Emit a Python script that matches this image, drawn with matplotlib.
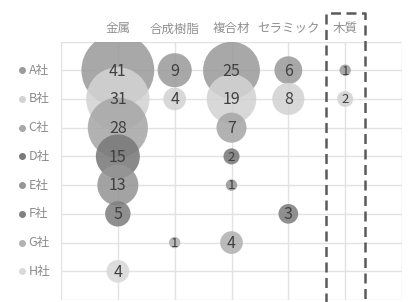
import matplotlib.pyplot as plt
from matplotlib.lines import Line2D

plt.rcParams['font.family'] = ['Noto Sans CJK JP', 'DejaVu Sans']

materials = ['金属', '合成樹脂', '複合材', 'セラミック', '木質']
companies = ['A社', 'B社', 'C社', 'D社', 'E社', 'F社', 'G社', 'H社']

# values per company, one entry per material (None = no bubble)
a_vals = [41, 9, 25, 6, 1]
b_vals = [31, 4, 19, 8, 2]
c_vals = [28, None, 7, None, None]
d_vals = [15, None, 2, None, None]
e_vals = [13, None, 1, None, None]
f_vals = [5, None, None, 3, None]
g_vals = [None, 1, 4, None, None]
h_vals = [4, None, None, None, None]
series = [a_vals, b_vals, c_vals, d_vals, e_vals, f_vals, g_vals, h_vals]

colors = ['#9c9c9c', '#d3d3d3', '#a8a8a8', '#7a7a7a',
          '#969696', '#808080', '#b2b2b2', '#d9d9d9']

fig = plt.figure(figsize=(4.11, 3.02), dpi=100)
ax = fig.add_axes([61/411, 2/302, 341/411, 258.5/302])

ax.set_xlim(0, len(materials) + 1)
ax.set_ylim(len(companies) + 1, 0)
ax.set_xticks(range(0, len(materials) + 2))
ax.set_yticks(range(0, len(companies) + 2))
ax.grid(True, color='#e2e2e2', lw=1)
ax.set_axisbelow(True)
ax.tick_params(length=0, labelleft=False, labelbottom=False)
for s in ax.spines.values():
    s.set_visible(False)

scale = 67
for i, (vals, col) in enumerate(zip(series, colors)):
    y = i + 1
    xs = [j + 1 for j, v in enumerate(vals) if v is not None]
    vs = [v for v in vals if v is not None]
    ax.scatter(xs, [y] * len(xs), s=[v * scale for v in vs], color=col,
               alpha=0.88, edgecolors='none', zorder=2 + i)
    for x, v in zip(xs, vs):
        fs = 11.5 if v >= 3 else 9.5
        ax.text(x, y + 0.03, str(v), ha='center', va='center', fontsize=fs,
                color='#404040', zorder=20)

# column labels
for j, m in enumerate(materials):
    ax.text(j + 1, -0.44, m, ha='center', va='center', fontsize=9,
            color='#909090', clip_on=False)

# row labels with coloured dot
for i, (c, col) in enumerate(zip(companies, colors)):
    ax.plot(-0.686, i + 1, 'o', ms=4, color=col, clip_on=False)
    ax.text(-0.57, i + 1, c, ha='left', va='center', fontsize=9,
            color='#8c8c8c', clip_on=False)

# dashed frame around the 木質 column
xc = materials.index('木質') + 1
frame = Line2D([xc - 0.33, xc - 0.33, xc + 0.35, xc + 0.35],
               [9.6, -0.98, -0.98, 9.6], color='#5a5a5a', lw=1.8,
               linestyle=(0, (4, 2.2)), clip_on=False, zorder=30)
ax.add_line(frame)

fig.savefig('out.png', dpi=100)
